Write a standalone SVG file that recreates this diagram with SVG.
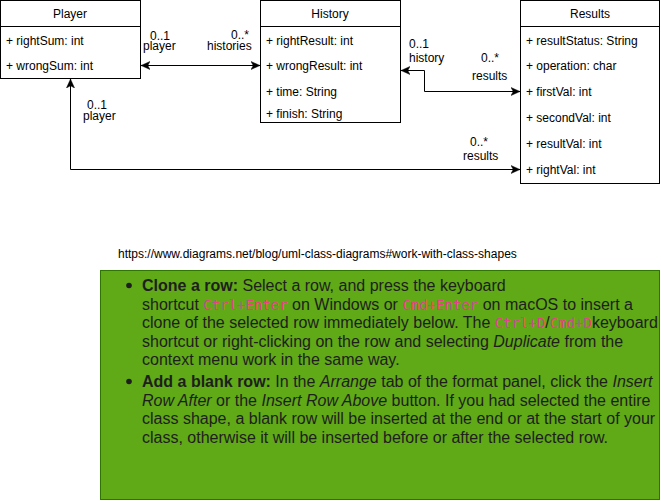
<svg xmlns="http://www.w3.org/2000/svg" width="661" height="501" viewBox="0 0 661 501">
<defs>
<style>
.box{fill:#fff;stroke:#000;stroke-width:1}
.t{font-family:"Liberation Sans",Arial,Helvetica,sans-serif;font-size:12px;fill:#000}
.c{text-anchor:middle}
.edge{fill:none;stroke:#000;stroke-width:1}
.lb{font-family:"Liberation Sans",Arial,Helvetica,sans-serif;font-size:12px;fill:#000}
.url{font-family:"Liberation Sans",Arial,Helvetica,sans-serif;font-size:12px;fill:#000}
.note{font-family:"Liberation Sans",Arial,Helvetica,sans-serif;font-size:16px;fill:#1e1e1e}
.code{font-family:"DejaVu Sans Mono","Liberation Mono",monospace;font-size:14px;fill:#e83e8c}
.b{font-weight:bold}
.i{font-style:italic}
</style>
<marker id="arr" viewBox="0 0 10 10" refX="10" refY="5" markerWidth="9" markerHeight="9" markerUnits="userSpaceOnUse" orient="auto-start-reverse">
<path d="M0,0.5 L10,5 L0,9.5 L2.5,5 Z" fill="#000" stroke="#000" stroke-width="0.5"/>
</marker>
</defs>

<g id="Player">
<rect class="box" x="0.5" y="0.5" width="140" height="78"/>
<line class="edge" x1="0.5" y1="26.5" x2="140.5" y2="26.5"/>
<text class="t c" x="70" y="18">Player</text>
<text class="t" x="6" y="45">+ rightSum: int</text>
<text class="t" x="6" y="70">+ wrongSum: int</text>
</g>

<g id="History">
<rect class="box" x="260.5" y="0.5" width="140" height="122"/>
<line class="edge" x1="260.5" y1="26.5" x2="400.5" y2="26.5"/>
<text class="t c" x="330" y="18">History</text>
<text class="t" x="266" y="44.5">+ rightResult: int</text>
<text class="t" x="266" y="70">+ wrongResult: int</text>
<text class="t" x="266" y="95.5">+ time: String</text>
<text class="t" x="266" y="117.5">+ finish: String</text>
</g>

<g id="Results">
<rect class="box" x="520.5" y="0.5" width="139" height="183"/>
<line class="edge" x1="520.5" y1="26.5" x2="659.5" y2="26.5"/>
<text class="t c" x="590" y="18">Results</text>
<text class="t" x="526" y="44.5">+ resultStatus: String</text>
<text class="t" x="526" y="70">+ operation: char</text>
<text class="t" x="526" y="96">+ firstVal: int</text>
<text class="t" x="526" y="122">+ secondVal: int</text>
<text class="t" x="526" y="148">+ resultVal: int</text>
<text class="t" x="526" y="174">+ rightVal: int</text>
</g>

<g id="connectors">
<path class="edge" d="M141,65.5 L260,65.5" marker-start="url(#arr)" marker-end="url(#arr)"/>
<path class="edge" d="M401,70.5 L424.5,70.5 L424.5,91.5 L520,91.5" marker-start="url(#arr)" marker-end="url(#arr)"/>
<path class="edge" d="M70.5,79 L70.5,169.5 L520,169.5" marker-start="url(#arr)" marker-end="url(#arr)"/>
<text class="lb" x="150" y="39.5">0..1</text>
<text class="lb" x="143" y="50">player</text>
<text class="lb" x="231" y="38.5">0..*</text>
<text class="lb" x="207" y="50">histories</text>
<text class="lb" x="409" y="48">0..1</text>
<text class="lb" x="409" y="62">history</text>
<text class="lb" x="481" y="62">0..*</text>
<text class="lb" x="472" y="80">results</text>
<text class="lb" x="87" y="109">0..1</text>
<text class="lb" x="83" y="120">player</text>
<text class="lb" x="470" y="146">0..*</text>
<text class="lb" x="463" y="160">results</text>
</g>

<g id="url">
<text class="url" x="118" y="258">https://www.diagrams.net/blog/uml-class-diagrams#work-with-class-shapes</text>
</g>

<g id="note">
<rect x="100.5" y="270.5" width="559" height="229" fill="#60a917" stroke="#2d7600"/>
<circle cx="129" cy="285.5" r="2.8" fill="#1e1e1e"/>
<circle cx="129" cy="381.5" r="2.8" fill="#1e1e1e"/>
<text class="note" x="142" y="291"><tspan class="b">Clone a row:</tspan> Select a row, and press the keyboard</text>
<text class="note" x="142" y="309.5">shortcut <tspan class="code">Ctrl+Enter</tspan> on Windows or <tspan class="code">Cmd+Enter</tspan> on macOS to insert a</text>
<text class="note" x="142" y="328">clone of the selected row immediately below. The <tspan class="code">Ctrl+D</tspan>/<tspan class="code">Cmd+D</tspan>keyboard</text>
<text class="note" x="142" y="346.5">shortcut or right-clicking on the row and selecting <tspan class="i">Duplicate</tspan> from the</text>
<text class="note" x="142" y="365">context menu work in the same way.</text>
<text class="note" x="142" y="387"><tspan class="b">Add a blank row:</tspan> In the <tspan class="i">Arrange</tspan> tab of the format panel, click the <tspan class="i">Insert</tspan></text>
<text class="note" x="142" y="405.5"><tspan class="i">Row After</tspan> or the <tspan class="i">Insert Row Above</tspan> button. If you had selected the entire</text>
<text class="note" x="142" y="424">class shape, a blank row will be inserted at the end or at the start of your</text>
<text class="note" x="142" y="442.5">class, otherwise it will be inserted before or after the selected row.</text>
</g>
</svg>
